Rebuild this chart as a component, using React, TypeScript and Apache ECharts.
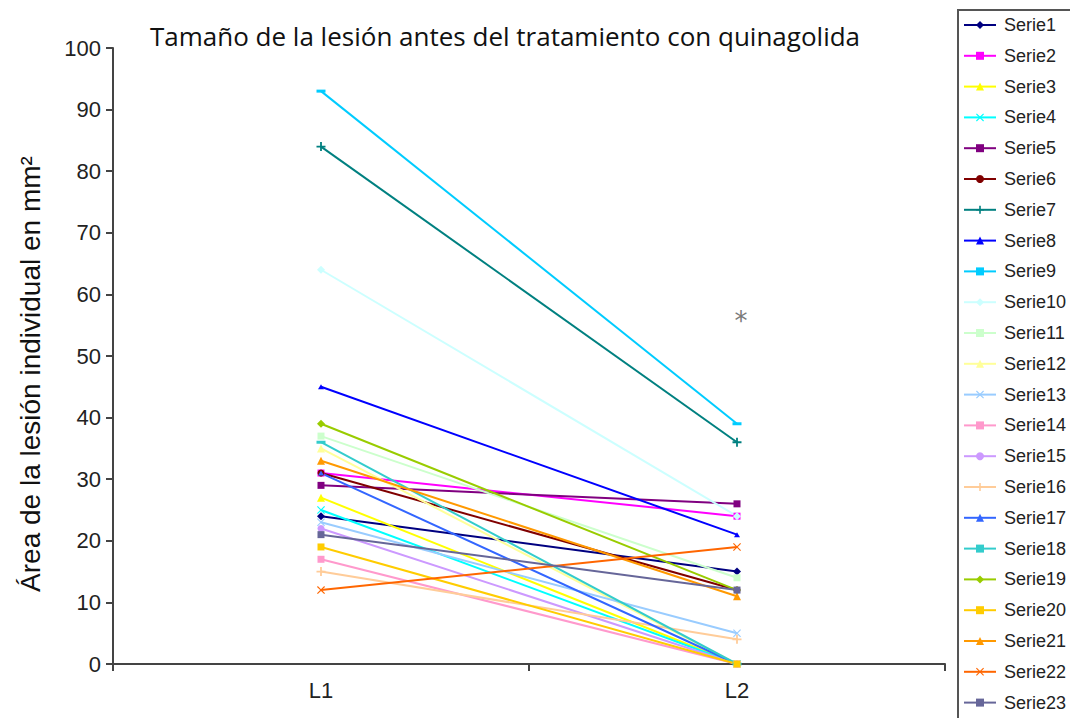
import React, { useEffect, useRef } from "react";
import * as echarts from "echarts";

const categories = ["L1", "L2"];
const seriesNames = [
  "Serie1", "Serie2", "Serie3", "Serie4", "Serie5", "Serie6", "Serie7", "Serie8",
  "Serie9", "Serie10", "Serie11", "Serie12", "Serie13", "Serie14", "Serie15", "Serie16",
  "Serie17", "Serie18", "Serie19", "Serie20", "Serie21", "Serie22", "Serie23",
];
const l1Values = [24, 31, 27, 25, 29, 31, 84, 45, 93, 64, 37, 35, 23, 17, 22, 15, 31, 36, 39, 19, 33, 12, 21];
const l2Values = [15, 24, 0, 0, 26, 12, 36, 21, 39, 24, 14, 0, 5, 0, 0, 4, 0, 0, 12, 0, 11, 19, 12];
const colors = [
  "#000080", "#FF00FF", "#FFFF00", "#00FFFF", "#800080", "#800000", "#008080", "#0000FF",
  "#00CCFF", "#CCFFFF", "#CCFFCC", "#FFFF99", "#99CCFF", "#FF99CC", "#CC99FF", "#FFCC99",
  "#3366FF", "#33CCCC", "#99CC00", "#FFCC00", "#FF9900", "#FF6600", "#666699",
];
const yTicks = [0, 10, 20, 30, 40, 50, 60, 70, 80, 90, 100];
const asteriskValue = 56;
const yAxisTitle = "Área de la lesión individual en mm²";
const chartTitle = "Tamaño de la lesión antes del tratamiento con quinagolida";

const X_SYM = "path://M0,1L1,0L5,4L9,0L10,1L6,5L10,9L9,10L5,6L1,10L0,9L4,5Z";
const PLUS_SYM = "path://M4,0H6V4H10V6H6V10H4V6H0V4H4Z";
const symbolCycle: any[] = [
  ["diamond", 8], ["rect", 7], ["triangle", 8], [X_SYM, 8], ["rect", 7],
  ["circle", 7], [PLUS_SYM, 9], ["triangle", [6, 5]], ["rect", [9, 3]],
];
function symbolFor(i: number) {
  if (i === 16) return ["triangle", [6, 5]];
  if (i === 17) return ["rect", [9, 3]];
  return symbolCycle[i % 9];
}

export default function App() {
  const ref = useRef<HTMLDivElement>(null);
  useEffect(() => {
    if (!ref.current) return;
    const chart = echarts.init(ref.current, undefined, { renderer: "svg" });
    const series = seriesNames.map((name, i) => {
      const [sym, size] = symbolFor(i);
      const s: any = {
        name,
        type: "line",
        data: [l1Values[i], l2Values[i]],
        symbol: sym,
        symbolSize: size,
        showAllSymbol: true,
        lineStyle: { color: colors[i], width: 2 },
        itemStyle: { color: colors[i] },
        emphasis: { disabled: true },
      };
      if (i === 8) {
        s.markPoint = {
          symbol: "circle",
          symbolSize: 1,
          itemStyle: { color: "rgba(0,0,0,0)" },
          label: {
            show: true,
            position: "inside",
            formatter: "*",
            fontSize: 26,
            color: "#7a7a7a",
            fontFamily: "DejaVu Sans",
            offset: [4, 2],
          },
          data: [{ coord: ["L2", asteriskValue] }],
        };
      }
      return s;
    });
    chart.setOption({
      animation: false,
      backgroundColor: "#ffffff",
      title: {
        text: chartTitle,
        left: 500,
        textAlign: "center",
        top: 18,
        textStyle: { fontFamily: "Open Sans", fontSize: 26, fontWeight: "normal", color: "#111" },
      },
      legend: {
        orient: "vertical",
        left: 958,
        top: 11,
        itemWidth: 32,
        itemHeight: 10,
        itemGap: 12.8,
        textStyle: { fontFamily: "Liberation Sans", fontSize: 18, color: "#222", padding: [0, 0, 0, 3] },
        data: seriesNames,
      },
      grid: { left: 113, right: 125, top: 48, bottom: 54 },
      xAxis: {
        type: "category",
        data: categories,
        boundaryGap: true,
        axisLine: { lineStyle: { color: "#444", width: 2 } },
        axisTick: { show: true, length: 7, interval: 0, lineStyle: { color: "#444", width: 2 } },
        axisLabel: { fontFamily: "Liberation Sans", fontSize: 22, color: "#222", margin: 15 },
      },
      yAxis: {
        type: "value",
        min: 0,
        max: 100,
        interval: 10,
        axisLine: { show: true, lineStyle: { color: "#444", width: 2 } },
        axisTick: { show: true, length: 7, lineStyle: { color: "#444", width: 2 } },
        splitLine: { show: false },
        axisLabel: {
          fontFamily: "Liberation Sans", fontSize: 22, color: "#222", margin: 12,
          formatter: (v: number) => (yTicks.includes(v) ? String(v) : ""),
        },
      },
      graphic: [
        {
          type: "text",
          x: 30,
          y: 374,
          rotation: Math.PI / 2,
          style: {
            text: yAxisTitle,
            fontFamily: "Liberation Sans",
            fontSize: 28,
            fill: "#111",
            align: "center",
            verticalAlign: "middle",
          },
          silent: true,
        },
        {
          type: "rect",
          shape: { x: 958, y: 10, width: 130, height: 730 },
          style: { fill: "none", stroke: "#555", lineWidth: 2 },
          silent: true,
        },
      ],
      series,
    });
    return () => chart.dispose();
  }, []);
  return <div ref={ref} style={{ width: 1070, height: 718, position: "absolute", left: 0, top: 0 }} />;
}
